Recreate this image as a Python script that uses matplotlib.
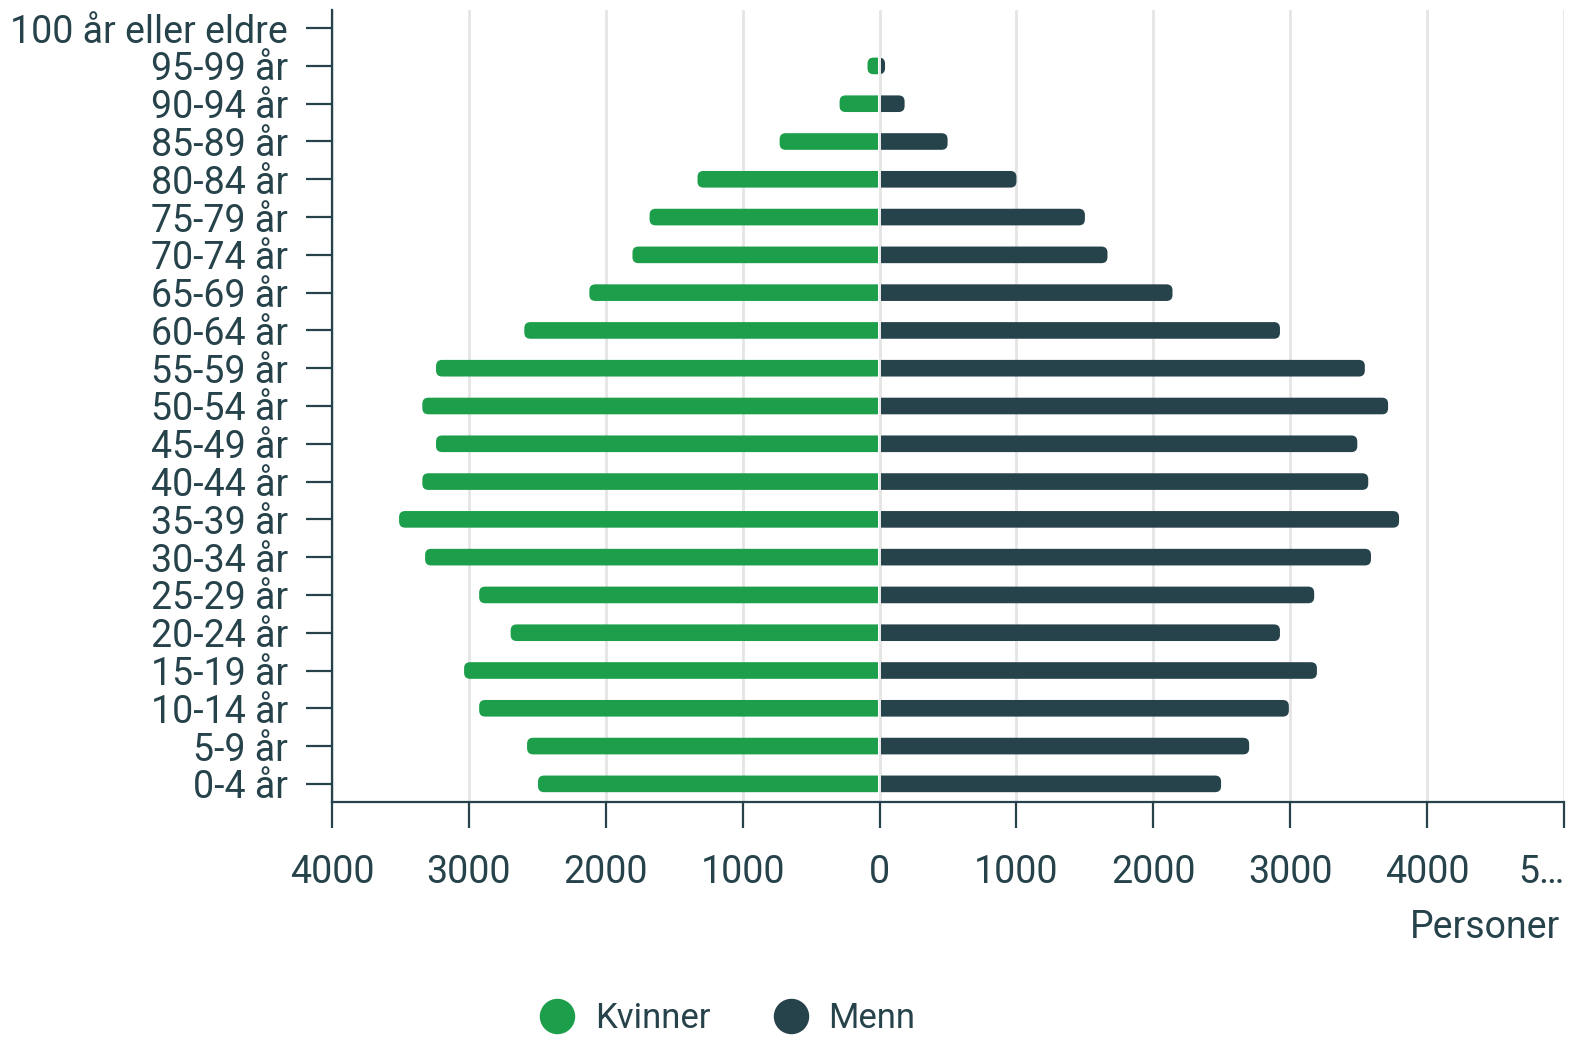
import matplotlib as mpl
import matplotlib.pyplot as plt
from matplotlib.lines import Line2D
from matplotlib.patches import FancyBboxPatch, Rectangle

mpl.rc("font", **{"family": ["Roboto", "DejaVu Sans"], "size": 27})

groups = [
    "0-4 år", "5-9 år", "10-14 år", "15-19 år", "20-24 år", "25-29 år",
    "30-34 år", "35-39 år", "40-44 år", "45-49 år", "50-54 år", "55-59 år",
    "60-64 år", "65-69 år", "70-74 år", "75-79 år", "80-84 år", "85-89 år",
    "90-94 år", "95-99 år", "100 år eller eldre",
]
kvinner = [2495, 2575, 2925, 3035, 2695, 2925, 3320, 3510, 3340, 3240, 3340,
           3240, 2595, 2120, 1805, 1680, 1330, 730, 292, 88, 0]
menn = [2495, 2700, 2990, 3195, 2925, 3175, 3590, 3795, 3570, 3490, 3715,
        3545, 2925, 2140, 1665, 1500, 1000, 497, 183, 40, 0]
xticks = [-4000, -3000, -2000, -1000, 0, 1000, 2000, 3000, 4000, 5000]
xticklabels = ["4000", "3000", "2000", "1000", "0", "1000", "2000", "3000", "4000", "5…"]

green = "#1c9e4b"
dark = "#26424a"
txt = "#26424a"

W, H = 1570, 1039
fig = plt.figure(figsize=(W / 100, H / 100), dpi=100)
ax = fig.add_axes([332 / W, 1 - 802 / H, (1564 - 332) / W, (802 - 10) / H])
ax.set_xlim(-4000, 5000)
ax.set_ylim(-0.48, 20.48)

# data units per pixel, for rounded bar ends
xpp = 9000 / (1564 - 332)
ypp = 20.96 / (802 - 10)
bh = 0.44
gap = 1.2 * xpp
rad = 6 * xpp


def bar(yc, v, sign, color):
    if v <= 0:
        return
    # rounded box that runs past zero, clipped so the inner end stays square
    inner = -sign * 3 * rad
    lo, hi = min(inner, sign * v), max(inner, sign * v)
    p = FancyBboxPatch((lo, yc - bh / 2), hi - lo, bh,
                       boxstyle=f"round,pad=0,rounding_size={rad}",
                       mutation_aspect=ypp / xpp, fc=color, ec="none", zorder=3)
    ax.add_patch(p)
    c0, c1 = sorted([sign * gap, sign * (v + 50)])
    clip = Rectangle((c0, yc - 0.5), c1 - c0, 1.0, transform=ax.transData)
    p.set_clip_path(clip)


for i, (k, m) in enumerate(zip(kvinner, menn)):
    bar(i, k, -1, green)
    bar(i, m, 1, dark)

ax.set_xticks(xticks)
ax.set_xticklabels(xticklabels)
ax.set_yticks(range(len(groups)))
ax.set_yticklabels(groups)
ax.grid(axis="x", color="#e5e5e5", lw=2, zorder=0)
ax.set_axisbelow(True)

for s in ["top", "right"]:
    ax.spines[s].set_visible(False)
for s in ["left", "bottom"]:
    ax.spines[s].set_color(dark)
    ax.spines[s].set_linewidth(1.6)
ax.tick_params(axis="x", length=18.5, width=1.6, color=dark, pad=19, labelcolor=txt)
ax.tick_params(axis="y", length=18.5, width=1.6, color=dark, pad=13, labelcolor=txt)
ax.get_xticklabels()[-1].set_ha("right")

fig.text(1560 / W, 1 - 928 / H, "Personer", ha="right", va="center", color=txt)

handles = [
    Line2D([], [], ls="none", marker="o", ms=24.5, color=green),
    Line2D([], [], ls="none", marker="o", ms=24.5, color=dark),
]
leg = fig.legend(handles, ["Kvinner", "Menn"], loc="center", ncol=2, frameon=False,
                 bbox_to_anchor=(728 / W, 20 / H), fontsize=25, handlelength=0.95,
                 handletextpad=0.6, columnspacing=1.85, borderpad=0, borderaxespad=0)
for t in leg.get_texts():
    t.set_color(txt)

fig.savefig("out.png", dpi=100)
